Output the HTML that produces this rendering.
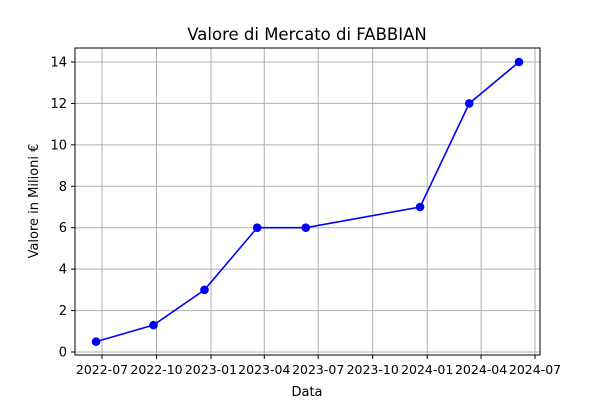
<!DOCTYPE html>
<html><head><meta charset="utf-8"><style>
body{margin:0;background:#fff;}
svg{font-family:"DejaVu Sans","Liberation Sans",sans-serif;}
</style></head><body>
<svg id="chart" width="600" height="400" xmlns="http://www.w3.org/2000/svg">
<rect width="600" height="400" fill="#fff"/>
<text x="307" y="40" text-anchor="middle" font-size="16.5">Valore di Mercato di FABBIAN</text>
<text x="307" y="396" text-anchor="middle" font-size="13">Data</text>
<text transform="translate(38,201) rotate(-90)" text-anchor="middle" font-size="13">Valore in Milioni €</text>
<g id="grid"></g><g id="axes"></g><g id="marks"></g>
<rect x="75" y="48" width="465" height="307" fill="none" stroke="#000" stroke-width="1"/>
</svg>
<script>
const dates = ["2022-06-21","2022-09-26","2022-12-21","2023-03-20","2023-06-10","2023-12-20","2024-03-12","2024-06-04"];
const values = [0.5,1.3,3,6,6,7,12,14];
const xTicks = ["2022-07","2022-10","2023-01","2023-04","2023-07","2023-10","2024-01","2024-04","2024-07"];
const yTicks = [0,2,4,6,8,10,12,14];

const NS="http://www.w3.org/2000/svg";
const t0=Date.parse("2022-07-01"), t1=Date.parse("2024-07-01");
function xs(d){return 102+(Date.parse(d)-t0)/(t1-t0)*433;}
function ys(v){return 352-v*(290/14);}
function mk(tag,a,parent){const e=document.createElementNS(NS,tag);for(const k in a)e.setAttribute(k,a[k]);parent.appendChild(e);return e;}
const grid=document.getElementById('grid'),axes=document.getElementById('axes'),marks=document.getElementById('marks');
yTicks.forEach(v=>{const y=ys(v);
 const g=mk('line',{x1:75,x2:540,y1:y,y2:y,stroke:'#b0b0b0','stroke-width':1},grid);
 
 
 mk('line',{x1:71,x2:75,y1:y,y2:y,stroke:'#000'},axes);
 const t=mk('text',{x:67,y:y+4.5,'text-anchor':'end','font-size':13},axes);t.textContent=v;
 
 
});
xTicks.forEach(d=>{const x=xs(d+"-01");
 const g=mk('line',{x1:x,x2:x,y1:48,y2:355,stroke:'#b0b0b0','stroke-width':1},grid);
 
 
 mk('line',{x1:x,x2:x,y1:355,y2:359,stroke:'#000'},axes);
 const t=mk('text',{x:x,y:374,'text-anchor':'middle','font-size':12.5},axes);t.textContent=d;
 
 
});
const pts=dates.map((d,i)=>xs(d)+","+ys(values[i])).join(" ");
const line=mk('polyline',{points:pts,fill:'none',stroke:'#0000ff','stroke-width':1.6},marks);


dates.forEach((d,i)=>{const c=mk('circle',{cx:xs(d),cy:ys(values[i]),r:4.3,fill:'#0000ff'},marks);
 
 
});
</script>
</body></html>
